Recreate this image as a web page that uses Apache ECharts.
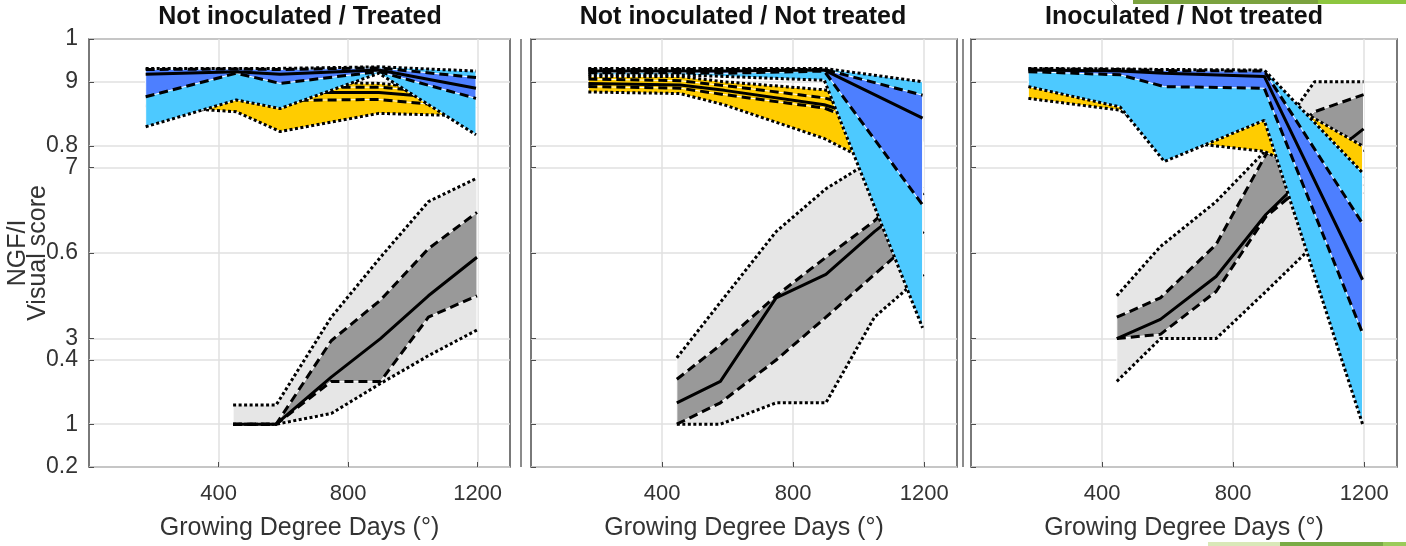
<!DOCTYPE html>
<html>
<head>
<meta charset="utf-8">
<title>NGF/I and visual score over growing degree days</title>
<script src="https://cdn.jsdelivr.net/npm/echarts@6/dist/echarts.min.js"></script>
<style>
  html, body { margin: 0; padding: 0; background: #fff; }
  #chart { width: 1406px; height: 546px; }
</style>
</head>
<body>
<div id="chart"></div>
<script>
// sampling dates (growing degree days)
const gddNgf = [175, 455, 590, 895, 1195];
const gddVisual = [445, 578, 748, 900, 1048, 1198];

const panelTitles = ['Not inoculated / Treated', 'Not inoculated / Not treated', 'Inoculated / Not treated'];
const gddTicks = [400, 800, 1200];
const visualTicks = [1, 3, 7, 9];

// panel 1 - Not inoculated / Treated
const t1BlueMax = [0.945, 0.945, 0.945, 0.948, 0.940];
const t1BlueQ3 = [0.943, 0.944, 0.943, 0.946, 0.928];
const t1BlueMed = [0.934, 0.939, 0.934, 0.942, 0.908];
const t1BlueQ1 = [0.892, 0.936, 0.917, 0.939, 0.889];
const t1BlueMin = [0.836, 0.886, 0.870, 0.936, 0.821];
const t1YellowMax = [0.920, 0.920, 0.920, 0.917, 0.900];
const t1YellowQ3 = [0.915, 0.915, 0.910, 0.910, 0.895];
const t1YellowMed = [0.905, 0.905, 0.900, 0.900, 0.885];
const t1YellowQ1 = [0.890, 0.890, 0.885, 0.887, 0.870];
const t1YellowMin = [0.875, 0.864, 0.827, 0.861, 0.856];
const t1GrayMax = [1.45, 1.45, 3.5, 4.9, 6.2, 6.75];
const t1GrayQ3 = [1.0, 1.0, 2.95, 3.9, 5.1, 5.95];
const t1GrayMed = [1.0, 1.0, 2.1, 3.0, 4.0, 4.9];
const t1GrayQ1 = [1.0, 1.0, 2.0, 2.0, 3.5, 4.0];
const t1GrayMin = [1.0, 1.0, 1.25, 1.95, 2.6, 3.2];

// panel 2 - Not inoculated / Not treated
const n2BlueMax = [0.945, 0.945, 0.945, 0.945, 0.920];
const n2BlueQ3 = [0.943, 0.943, 0.943, 0.943, 0.895];
const n2BlueMed = [0.940, 0.940, 0.940, 0.942, 0.852];
const n2BlueQ1 = [0.937, 0.937, 0.936, 0.940, 0.690];
const n2BlueMin = [0.933, 0.933, 0.930, 0.923, 0.460];
const n2YellowMax = [0.930, 0.930, 0.920, 0.905, 0.850];
const n2YellowQ3 = [0.925, 0.922, 0.913, 0.890, 0.840];
const n2YellowMed = [0.917, 0.914, 0.904, 0.877, 0.820];
const n2YellowQ1 = [0.911, 0.908, 0.896, 0.871, 0.800];
const n2YellowMin = [0.901, 0.898, 0.877, 0.814, 0.720];
const n2GrayMax = [2.55, 3.85, 5.5, 6.5, 7.2, 7.6];
const n2GrayQ3 = [2.05, 2.85, 4.0, 4.9, 5.75, 6.8];
const n2GrayMed = [1.5, 2.0, 3.95, 4.5, 5.5, 6.4];
const n2GrayQ1 = [1.0, 1.5, 2.5, 3.5, 4.5, 5.5];
const n2GrayMin = [1.0, 1.0, 1.5, 1.5, 3.5, 4.5];

// panel 3 - Inoculated / Not treated
const i3BlueMax = [0.945, 0.944, 0.943, 0.942, 0.750];
const i3BlueQ3 = [0.944, 0.943, 0.941, 0.940, 0.655];
const i3BlueMed = [0.942, 0.940, 0.936, 0.930, 0.550];
const i3BlueQ1 = [0.939, 0.933, 0.911, 0.908, 0.450];
const i3BlueMin = [0.911, 0.873, 0.771, 0.848, 0.280];
const i3YellowMax = [0.935, 0.920, 0.900, 0.905, 0.800];
const i3YellowQ3 = [0.930, 0.910, 0.880, 0.890, 0.740];
const i3YellowMed = [0.925, 0.900, 0.860, 0.875, 0.725];
const i3YellowQ1 = [0.915, 0.890, 0.840, 0.860, 0.710];
const i3YellowMin = [0.889, 0.867, 0.811, 0.790, 0.700];
const i3GrayMax = [4.0, 5.15, 6.2, 7.4, 9.0, 9.0];
const i3GrayQ3 = [3.5, 3.95, 5.2, 7.3, 8.3, 8.7];
const i3GrayMed = [3.0, 3.45, 4.45, 5.9, 7.0, 7.9];
const i3GrayQ1 = [3.0, 3.1, 4.1, 5.85, 6.8, 7.4];
const i3GrayMin = [2.0, 3.0, 3.0, 4.1, 5.2, 6.0];

const font = "'Liberation Sans', Arial, sans-serif";
const textColor = '#333';
const gridColor = '#e0e0e0';

const panels = [
  { left: 89, width: 421, title: 300,
    gray: [t1GrayMin, t1GrayQ1, t1GrayMed, t1GrayQ3, t1GrayMax],
    yellow: [t1YellowMin, t1YellowQ1, t1YellowMed, t1YellowQ3, t1YellowMax],
    blue: [t1BlueMin, t1BlueQ1, t1BlueMed, t1BlueQ3, t1BlueMax] },
  { left: 531, width: 426, title: 743,
    gray: [n2GrayMin, n2GrayQ1, n2GrayMed, n2GrayQ3, n2GrayMax],
    yellow: [n2YellowMin, n2YellowQ1, n2YellowMed, n2YellowQ3, n2YellowMax],
    blue: [n2BlueMin, n2BlueQ1, n2BlueMed, n2BlueQ3, n2BlueMax] },
  { left: 971, width: 426, title: 1184,
    gray: [i3GrayMin, i3GrayQ1, i3GrayMed, i3GrayQ3, i3GrayMax],
    yellow: [i3YellowMin, i3YellowQ1, i3YellowMed, i3YellowQ3, i3YellowMax],
    blue: [i3BlueMin, i3BlueQ1, i3BlueMed, i3BlueQ3, i3BlueMax] }
];

const solid = { color: '#000', width: 3, type: 'solid' };
const dashed = { color: '#000', width: 3, type: [9, 5] };
const dotted = { color: '#000', width: 3, type: [3, 2.5] };

let zOrder = 3;

// filled polygon between two curves
function band(xs, lo, hi, color, xi, yi) {
  return {
    type: 'custom', xAxisIndex: xi, yAxisIndex: yi, z: zOrder++, silent: true,
    data: xs.map((x, i) => [x, lo[i], hi[i]]),
    encode: { x: 0, y: [1, 2] },
    renderItem: function (params, api) {
      if (params.dataIndexInside !== 0) return null;
      const n = params.dataInsideLength;
      const top = [], bottom = [];
      for (let i = 0; i < n; i++) {
        top.push(api.coord([api.value(0, i), api.value(2, i)]));
        bottom.unshift(api.coord([api.value(0, i), api.value(1, i)]));
      }
      return {
        type: 'polygon',
        shape: { points: top.concat(bottom) },
        style: { fill: color, stroke: '#fff', lineWidth: 1 }
      };
    }
  };
}

function curve(xs, ys, style, xi, yi) {
  return {
    type: 'line', xAxisIndex: xi, yAxisIndex: yi, z: zOrder++, silent: true,
    symbol: 'none', data: xs.map((x, i) => [x, ys[i]]), lineStyle: style
  };
}

// range band, IQR band, then the five lines
function group(xs, stats, rangeColor, iqrColor, xi, yi) {
  const [mn, q1, md, q3, mx] = stats;
  return [
    band(xs, mn, mx, rangeColor, xi, yi),
    band(xs, q1, q3, iqrColor, xi, yi),
    curve(xs, mn, dotted, xi, yi),
    curve(xs, mx, dotted, xi, yi),
    curve(xs, q1, dashed, xi, yi),
    curve(xs, q3, dashed, xi, yi),
    curve(xs, md, solid, xi, yi)
  ];
}

const grid = [], xAxis = [], yAxis = [], title = [], series = [];

panels.forEach((p, i) => {
  grid.push({
    left: p.left, top: 39, width: p.width, height: 428,
    show: true, borderColor: '#4d4d4d', borderWidth: 1.5, backgroundColor: '#fff'
  });
  title.push({
    text: panelTitles[i], left: p.title, top: 5, padding: 0, textAlign: 'center',
    textStyle: { fontFamily: font, fontSize: 25, fontWeight: 'bold', color: '#111' }
  });
  xAxis.push({
    type: 'value', gridIndex: i, min: 0, max: 1300, interval: 400,
    axisLine: { show: false },
    axisTick: { inside: true, length: 5, customValues: gddTicks, lineStyle: { color: '#4d4d4d' } },
    axisLabel: { customValues: gddTicks, formatter: v => String(v), fontFamily: font, fontSize: 22, color: textColor, margin: 16 },
    splitLine: { show: true, lineStyle: { color: gridColor, width: 1.5 } },
    name: 'Growing Degree Days (°)', nameLocation: 'middle', nameGap: 49,
    nameTextStyle: { fontFamily: font, fontSize: 25, color: textColor }
  });
  // NGF/I axis
  yAxis.push({
    type: 'value', gridIndex: i, position: 'left', min: 0.2, max: 1, interval: 0.2,
    axisLine: { show: false },
    axisTick: { inside: true, length: 5, lineStyle: { color: '#4d4d4d' } },
    axisLabel: { show: i === 0, fontFamily: font, fontSize: 23, color: textColor, margin: 11 },
    splitLine: { show: true, lineStyle: { color: gridColor, width: 1.5 } },
    name: i === 0 ? 'NGF/I' : '', nameLocation: 'middle', nameGap: 58, nameRotate: 90,
    nameTextStyle: { fontFamily: font, fontSize: 25, color: textColor }
  });
  // visual score axis
  yAxis.push({
    type: 'value', gridIndex: i, position: 'left', min: 0, max: 10,
    axisLine: { show: false },
    axisTick: { inside: true, length: 5, customValues: visualTicks, lineStyle: { color: '#4d4d4d' } },
    axisLabel: { show: i === 0, customValues: visualTicks, fontFamily: font, fontSize: 23, color: textColor, margin: 11 },
    splitLine: { show: true, lineStyle: { color: gridColor, width: 1.5 } },
    name: i === 0 ? 'Visual score' : '', nameLocation: 'middle', nameGap: 38, nameRotate: 90,
    nameTextStyle: { fontFamily: font, fontSize: 25, color: textColor }
  });
  series.push(...group(gddVisual, p.gray, '#e6e6e6', '#999999', i, 2 * i + 1));
  series.push(...group(gddNgf, p.yellow, '#ffcc00', '#ffcc00', i, 2 * i));
  series.push(...group(gddNgf, p.blue, '#4dc9ff', '#4d7fff', i, 2 * i));
});

const myChart = echarts.init(document.getElementById('chart'));
myChart.setOption({
  animation: false,
  backgroundColor: '#fff',
  title,
  grid,
  xAxis,
  yAxis,
  series,
  graphic: [
    // slide decorations
    { type: 'rect', shape: { x: 1133, y: 0, width: 185, height: 4 }, style: { fill: '#7ba23f' } },
    { type: 'rect', shape: { x: 1318, y: 0, width: 88, height: 4 }, style: { fill: '#8dc63f' } },
    { type: 'line', shape: { x1: 1111, y1: 0, x2: 1116, y2: 5 }, style: { stroke: '#999', lineWidth: 1 } },
    { type: 'rect', shape: { x: 1208, y: 542, width: 72, height: 4 }, style: { fill: '#d9e8b8' } },
    { type: 'rect', shape: { x: 1280, y: 542, width: 103, height: 4 }, style: { fill: '#7aab45' } },
    { type: 'rect', shape: { x: 1383, y: 542, width: 23, height: 4 }, style: { fill: '#9bcb5a' } },
    { type: 'line', shape: { x1: 521, y1: 39, x2: 521, y2: 467 }, style: { stroke: '#666', lineWidth: 1.5 } },
    { type: 'line', shape: { x1: 963, y1: 39, x2: 963, y2: 467 }, style: { stroke: '#666', lineWidth: 1.5 } }
  ]
});
window.addEventListener('resize', () => myChart.resize());
</script>
</body>
</html>
